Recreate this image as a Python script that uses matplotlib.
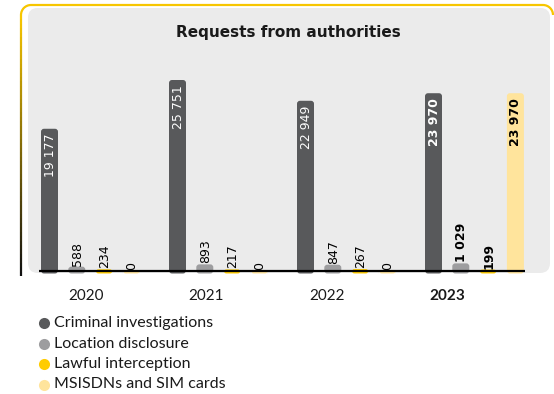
import numpy as np
import matplotlib
matplotlib.use("Agg")
import matplotlib.pyplot as plt
from matplotlib.patches import FancyBboxPatch, Arc
from matplotlib.collections import LineCollection
from matplotlib.lines import Line2D

# ── Data ──
YEARS = ["2020", "2021", "2022", "2023"]
SERIES = ["Criminal investigations", "Location disclosure",
          "Lawful interception", "MSISDNs and SIM cards"]
criminal = [19177, 25751, 22949, 23970]
location = [588, 893, 847, 1029]
lawful = [234, 217, 267, 199]
msisdn = [0, 0, 0, 23970]

COLORS = ["#58595b", "#9d9d9f", "#ffcc00", "#ffe49c"]

# layout, in figure pixels (554 x 394)
W, H = 554, 394
BASE_Y = 271          # baseline, px from top
PLOT_H = 191          # px for ymax
YMAX = 25751
GROUP_X0, GROUP_STEP, BAR_STEP, BAR_W = 49.5, 128, 27.3, 17
YEAR_X0, YEAR_STEP = 86, 120.5

fig = plt.figure(figsize=(W / 100, H / 100), dpi=100)

# background card
bg = fig.add_axes([0, 0, 1, 1])
bg.set_xlim(0, W)
bg.set_ylim(H, 0)
bg.axis("off")
card = FancyBboxPatch((28, 8), 522, 265, boxstyle="round,pad=0,rounding_size=10",
                      fc="#ebebeb", ec="none")
bg.add_patch(card)
grad = np.linspace(0, 1, 40)[:, None]
cmap = matplotlib.colors.LinearSegmentedColormap.from_list("g", ["#f8f8f8", "#ebebeb"])
im = bg.imshow(grad, extent=[28, 550, 40, 8], cmap=cmap, aspect="auto")
im.set_clip_path(card)

# yellow/black frame
bg.plot([31, 543], [5, 5], color="#f7c600", lw=1.6, solid_capstyle="butt")
bg.add_patch(Arc((31, 15), 20, 20, theta1=180, theta2=270, color="#f7c600", lw=1.6))
bg.add_patch(Arc((543, 15), 20, 20, theta1=270, theta2=360, color="#f7c600", lw=1.6))
ys = np.linspace(15, 276, 60)
segs = [[(21, ys[k]), (21, ys[k + 1])] for k in range(len(ys) - 1)]
lcmap = matplotlib.colors.LinearSegmentedColormap.from_list("l", ["#f7c600", "#111111"])
lc = LineCollection(segs, colors=[lcmap(t) for t in np.linspace(0, 1, len(segs))],
                    lw=1.6)
bg.add_collection(lc)

bg.text(288, 32, "Requests from authorities", ha="center", va="center",
        fontsize=11, fontweight="bold", family="DejaVu Sans", color="#1a1a1a")

# main plot
ax = fig.add_axes([0, (H - BASE_Y) / H, 1, PLOT_H / H])
ax.set_xlim(0, W)
ax.set_ylim(0, YMAX)
ax.axis("off")
ax.patch.set_alpha(0)

data = [criminal, location, lawful, msisdn]
ypx = YMAX / PLOT_H   # data units per pixel
below = 2.5 * ypx

for i, (vals, col) in enumerate(zip(data, COLORS)):
    for g, v in enumerate(vals):
        xc = GROUP_X0 + g * GROUP_STEP + i * BAR_STEP
        rect = FancyBboxPatch((xc - BAR_W / 2, -below), BAR_W, v + below,
                              boxstyle="round,pad=0,rounding_size=3",
                              mutation_aspect=ypx, fc=col, ec="none",
                              clip_on=False, zorder=2)
        ax.add_patch(rect)
        label = f"{v:,}".replace(",", " ")
        weight = "bold" if g == 3 else "normal"
        if v > 5000:
            tc = "white" if i == 0 else "black"
            ax.text(xc + 0.5, v - 5 * ypx, label, rotation=90, ha="center", va="top",
                    fontsize=9, color=tc, fontweight=weight, zorder=4)
        else:
            ax.text(xc + 0.5, v + 1 * ypx, label, rotation=90, ha="center", va="bottom",
                    fontsize=9, color="black", fontweight=weight, zorder=4)

ax.plot([39, 525], [0, 0], color="black", lw=1.6, clip_on=False, zorder=3,
        solid_capstyle="butt")

for g, yr in enumerate(YEARS):
    bg.text(YEAR_X0 + g * YEAR_STEP, 296, yr, ha="center", va="center",
            fontsize=11, family="Lato", color="#1a1a1a",
            fontweight="bold" if g == 3 else "normal")

# legend
for k, (name, col) in enumerate(zip(SERIES, COLORS)):
    yy = 323 + k * 20.5
    bg.add_line(Line2D([44], [yy], marker="o", ms=8, color=col, mec="none"))
    bg.text(54, yy, name, ha="left", va="center", fontsize=11.5, family="Lato",
            color="#1a1a1a")

fig.savefig("out.png", dpi=100)
